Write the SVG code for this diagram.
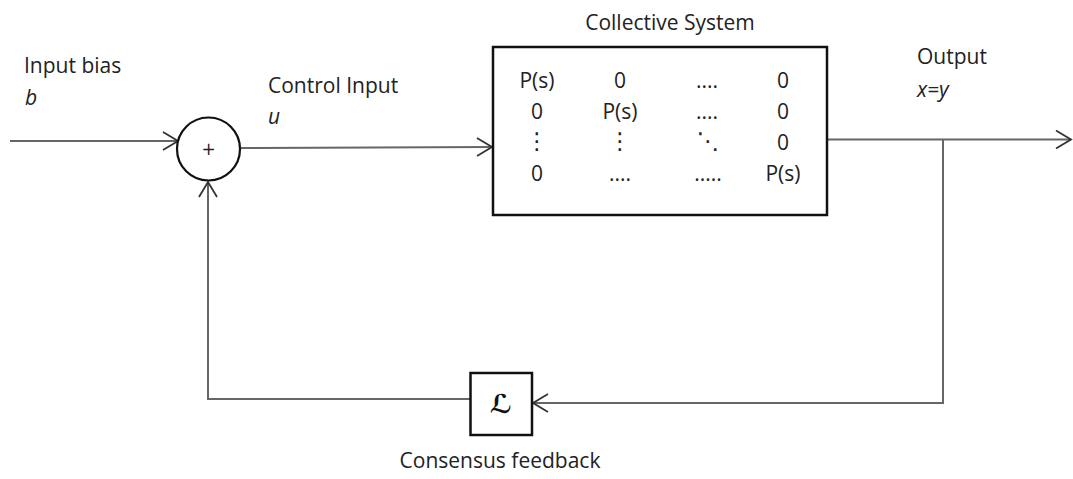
<svg xmlns="http://www.w3.org/2000/svg" width="1073" height="479" viewBox="0 0 1073 479">
  <style>
    .lbl { font-family: "Open Sans", "Liberation Sans", sans-serif; font-size: 21px; fill: #222; }
    .it { font-style: italic; }
    .mat { font-family: "Open Sans", "Liberation Sans", sans-serif; font-size: 21px; fill: #222; text-anchor: middle; }
    .sym { font-family: "DejaVu Sans", sans-serif; font-size: 23px; fill: #222; text-anchor: middle; }
    .wire { fill: none; stroke: #666; stroke-width: 2; }
    .block { fill: #fff; stroke: #111; stroke-width: 2.5; }
  </style>
  <defs>
    <marker id="arrow" markerUnits="userSpaceOnUse" markerWidth="20" markerHeight="24" viewBox="-17 -12 20 24" refX="0" refY="0" orient="auto">
      <path d="M-15,-9 L0,0 L-15,9" fill="none" stroke="#333" stroke-width="1.8"/>
    </marker>
  </defs>

  <rect width="1073" height="479" fill="#fff"/>

  <!-- signal lines -->
  <g id="connectors">
    <path class="wire" d="M10,141 L178,141" marker-end="url(#arrow)"/>
    <path class="wire" d="M240,148 L492,147" marker-end="url(#arrow)"/>
    <path class="wire" d="M827,139.5 L1071,139.5" marker-end="url(#arrow)"/>
    <path class="wire" d="M943,139.5 L943,403 L533,403" marker-end="url(#arrow)"/>
    <path class="wire" d="M470,399 L208,399 L208,182" marker-end="url(#arrow)"/>
  </g>

  <!-- summing junction -->
  <g id="sum">
    <circle cx="208.5" cy="149" r="31.5" fill="#fff" stroke="#111" stroke-width="2.2"/>
    <text x="208.5" y="154.5" font-family="DejaVu Sans, sans-serif" font-size="17" fill="#222" text-anchor="middle">+</text>
  </g>

  <!-- plant block -->
  <g id="system">
    <rect class="block" x="493" y="47" width="334" height="168"/>
    <text class="mat" x="537" y="88">P(s)</text>
    <text class="mat" x="620" y="88">0</text>
    <text class="mat" x="707" y="88">....</text>
    <text class="mat" x="783" y="88">0</text>
    <text class="mat" x="537" y="119">0</text>
    <text class="mat" x="620" y="119">P(s)</text>
    <text class="mat" x="707" y="119">....</text>
    <text class="mat" x="783" y="119">0</text>
    <text class="sym" x="537" y="149">⋮</text>
    <text class="sym" x="620" y="149">⋮</text>
    <text class="sym" x="708" y="149">⋱</text>
    <text class="mat" x="783" y="150">0</text>
    <text class="mat" x="537" y="181">0</text>
    <text class="mat" x="620" y="181">....</text>
    <text class="mat" x="708" y="181">.....</text>
    <text class="mat" x="783" y="181">P(s)</text>
  </g>

  <!-- feedback block -->
  <g id="feedback">
    <rect class="block" x="470.5" y="373" width="61.5" height="62"/>
    <text x="501" y="413" font-family="DejaVu Sans, sans-serif" font-style="italic" font-weight="bold" font-size="26" fill="#111" text-anchor="middle">ℒ</text>
  </g>

  <!-- labels -->
  <g id="labels">
    <text class="lbl" x="24" y="73">Input bias</text>
    <text class="lbl it" x="25" y="105">b</text>
    <text class="lbl" x="268" y="93">Control Input</text>
    <text class="lbl it" x="268" y="124">u</text>
    <text class="lbl" x="670" y="30" text-anchor="middle">Collective System</text>
    <text class="lbl" x="917" y="64">Output</text>
    <text class="lbl it" x="917" y="97">x=y</text>
    <text class="lbl" x="500" y="468" text-anchor="middle">Consensus feedback</text>
  </g>
</svg>
